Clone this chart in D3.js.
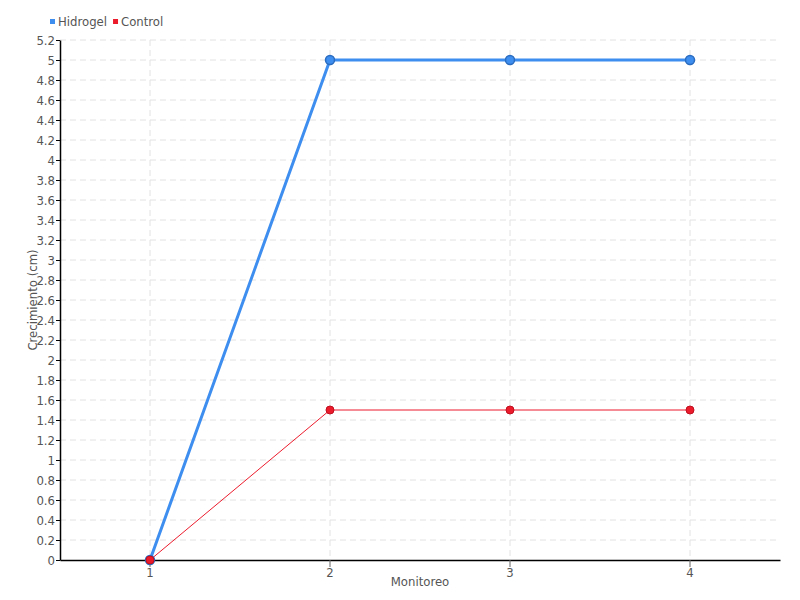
<!DOCTYPE html>
<html><head><meta charset="utf-8">
<script src="https://cdn.jsdelivr.net/npm/d3@7"></script>
<style>
body{margin:0;background:#fff;}
text{font-family:"DejaVu Sans Condensed","Liberation Sans Narrow",sans-serif;}
</style></head>
<body><svg id="c" width="800" height="600"></svg>
<script>
const categories = ["1","2","3","4"];
const hidrogel = [0,5,5,5];
const control = [0,1.5,1.5,1.5];
const yTicks = d3.range(0,5.21,0.2).map(v=>+v.toFixed(1));
const seriesNames = ["Hidrogel","Control"];
const colors = ["#3e8ef0","#ec1b2c"];

const svg = d3.select("#c");
const m = {l:60,r:20,t:40,b:40};
const W=800,H=600;
const x = d3.scaleBand().domain(categories).range([m.l,W-m.r]);
const y = d3.scaleLinear().domain([0,5.2]).range([H-m.b,m.t]);
const cx = d => x(d)+x.bandwidth()/2;

// grid
const g = svg.append("g");
g.selectAll(".hg").data(yTicks.slice(1)).join("line")
 .attr("x1",m.l).attr("x2",W-m.r).attr("y1",d=>y(d)).attr("y2",d=>y(d))
 .attr("stroke","#e2e2e2").attr("stroke-dasharray","6,4");
g.selectAll(".vg").data(categories).join("line")
 .attr("x1",d=>cx(d)).attr("x2",d=>cx(d)).attr("y1",m.t).attr("y2",H-m.b)
 .attr("stroke","#e2e2e2").attr("stroke-dasharray","6,4");

// axes
const fmt = d3.format("~g");
const ya = svg.append("g").attr("transform",`translate(${m.l},0)`)
 .call(d3.axisLeft(y).tickValues(yTicks).tickFormat(d=>fmt(d)).tickSize(4).tickSizeOuter(0));
ya.select(".domain").attr("stroke","#000").attr("stroke-width",1.5);
ya.selectAll(".tick line").attr("stroke","#000");
ya.selectAll(".tick text").attr("fill","#555").attr("font-size",13).attr("x",-5);

const xa = svg.append("g").attr("transform",`translate(0,${H-m.b})`)
 .call(d3.axisBottom(x).tickSize(7).tickSizeOuter(0));
xa.select(".domain").attr("stroke","#000").attr("stroke-width",1.5);
xa.selectAll(".tick line").attr("stroke","#666");
xa.selectAll(".tick text").attr("fill","#555").attr("font-size",13).attr("y",8);

// titles
svg.append("text").attr("x",(m.l+W-m.r)/2).attr("y",586).attr("text-anchor","middle")
 .attr("fill","#555").attr("font-size",13).text("Monitoreo");
svg.append("text").attr("transform",`translate(37,${(m.t+H-m.b)/2}) rotate(-90)`).attr("text-anchor","middle")
 .attr("fill","#555").attr("font-size",13).text("Crecimiento (cm)");

// series
const line = d3.line().x((d,i)=>cx(categories[i])).y(d=>y(d));
svg.append("path").datum(hidrogel).attr("d",line).attr("fill","none")
 .attr("stroke",colors[0]).attr("stroke-width",3);
svg.append("path").datum(control).attr("d",line).attr("fill","none")
 .attr("stroke",colors[1]).attr("stroke-width",1);
svg.selectAll(".ph").data(hidrogel).join("circle")
 .attr("cx",(d,i)=>cx(categories[i])).attr("cy",d=>y(d)).attr("r",4.5)
 .attr("fill",colors[0]).attr("stroke","#2a6cc0").attr("stroke-width",1.5);
svg.selectAll(".pc").data(control).join("circle")
 .attr("cx",(d,i)=>cx(categories[i])).attr("cy",d=>y(d)).attr("r",4)
 .attr("fill",colors[1]).attr("stroke","#c0101f").attr("stroke-width",1);

// legend
const lg = svg.append("g").attr("transform","translate(50,22)");
let off=0;
seriesNames.forEach((n,i)=>{
  lg.append("rect").attr("x",off).attr("y",-3).attr("width",5).attr("height",5).attr("fill",colors[i]);
  const t = lg.append("text").attr("x",off+8).attr("y",4).attr("fill","#555").attr("font-size",13).text(n);
  off += 8 + t.node().getComputedTextLength() + 6;
});
</script></body></html>
